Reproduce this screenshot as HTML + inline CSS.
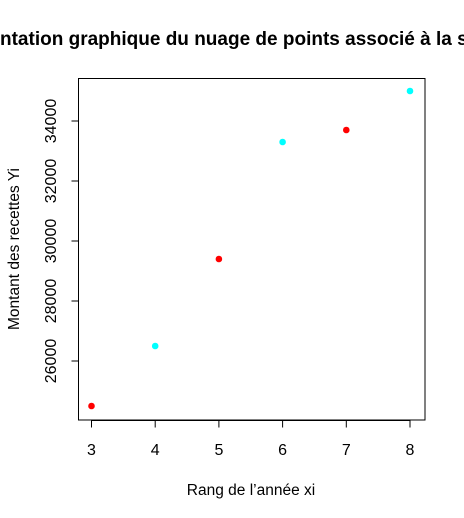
<!DOCTYPE html>
<html><head><meta charset="utf-8"><style>
html,body{margin:0;padding:0;background:#fff;width:464px;height:518px;overflow:hidden}
svg{display:block;font-family:"Liberation Sans",Arial,sans-serif}
</style></head><body>
<svg id="chart" width="464" height="518" viewBox="0 0 464 518">
<text x="-75" y="45" text-anchor="start" font-size="19" font-weight="bold">Représentation graphique du nuage de points associé à la série</text>
<rect x="78.5" y="78.5" width="346.5" height="341.5" fill="none" stroke="#000" stroke-width="1"/>
<g id="xaxis"></g>
<g id="yaxis"></g>
<g id="points"></g>
<text x="251" y="495" text-anchor="middle" font-size="15.5">Rang de l’année xi</text>
<text transform="translate(19,249) rotate(-90)" text-anchor="middle" font-size="15.5">Montant des recettes Yi</text>
</svg>
<script>
const xValues = [3, 4, 5, 6, 7, 8];
const yValues = [24500, 26500, 29400, 33300, 33700, 35000];
const pointColors = ["#ff0000", "#00ffff", "#ff0000", "#00ffff", "#ff0000", "#00ffff"];
const xTicks = [3, 4, 5, 6, 7, 8];
const yTicks = [26000, 28000, 30000, 32000, 34000];

const NS = "http://www.w3.org/2000/svg";
function sx(v){ return 91.5 + (v - 3) * (410 - 91.5) / 5; }
function sy(v){ return 361 - (v - 26000) * (361 - 121) / 8000; }
function mk(tag, attrs, parent){ const e = document.createElementNS(NS, tag); for (const k in attrs) e.setAttribute(k, attrs[k]); parent.appendChild(e); return e; }

const xa = document.getElementById("xaxis");
mk("line", {x1: sx(xTicks[0]), x2: sx(xTicks[xTicks.length-1]), y1: 420.5, y2: 420.5, stroke: "#000"}, xa);
xTicks.forEach(t => {
  const l = mk("line", {x1: sx(t), x2: sx(t), y1: 420.5, y2: 427.5, stroke: "#000"}, xa);
  
  
  const tx = mk("text", {x: sx(t), y: 455, "text-anchor": "middle", "font-size": "16"}, xa);
  
  
  tx.textContent = t;
});

const ya = document.getElementById("yaxis");
mk("line", {x1: 78.5, x2: 78.5, y1: sy(yTicks[0]), y2: sy(yTicks[yTicks.length-1]), stroke: "#000"}, ya);
yTicks.forEach(t => {
  const l = mk("line", {x1: 71.5, x2: 78.5, y1: sy(t), y2: sy(t), stroke: "#000"}, ya);
  
  
  const tx = mk("text", {transform: "translate(56," + sy(t) + ") rotate(-90)", "text-anchor": "middle", "font-size": "16"}, ya);
  
  
  tx.textContent = t;
});

const pg = document.getElementById("points");
xValues.forEach((x, i) => {
  const c = mk("circle", {cx: sx(x), cy: sy(yValues[i]), r: 3.3, fill: pointColors[i]}, pg);
  
  
});
</script>
</body></html>
